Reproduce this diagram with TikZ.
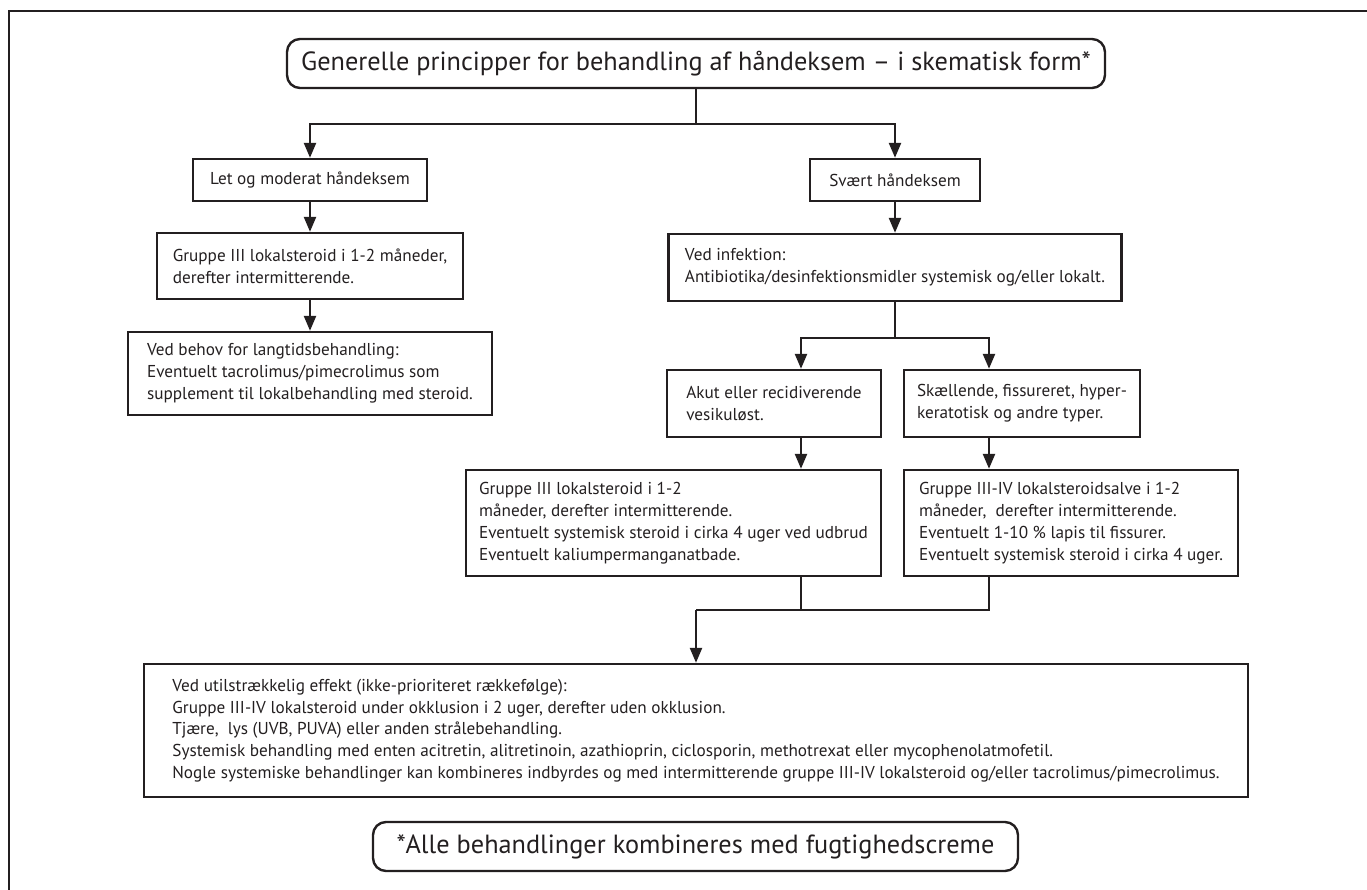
\documentclass[tikz,border=0pt]{standalone}
\usepackage{fontspec}
\setmainfont{PT Sans}
\usetikzlibrary{arrows.meta}
\definecolor{ink}{HTML}{231F20}

\begin{document}
\begin{tikzpicture}[x=1pt,y=-1pt,line width=2.4pt,color=ink,
    font=\fontsize{17.2}{21.8}\selectfont,
    box/.style={draw,rectangle,inner sep=0pt,align=left},
    pill/.style={draw,rectangle,rounded corners=13pt,inner sep=0pt,font=\fontsize{26.3}{32}\selectfont},
    arr/.style={-{Triangle[length=15pt,width=12pt]}}]
  \useasboundingbox (0,0) rectangle (1367,890);
  \draw[line width=2.6pt] (9,892) -- (9,11) -- (1369,11);
  \node[pill,minimum width=818pt,minimum height=49pt] (title) at (696,63.5) {Generelle principper for behandling af håndeksem – i skematisk form*};
  \node[box,minimum width=234pt,minimum height=42pt] (let) at (310,180) {Let og moderat håndeksem};
  \node[box,minimum width=170pt,minimum height=42pt] (svaert) at (895,180) {Svært håndeksem};
  \node[box,minimum width=306pt,minimum height=66pt] (grp) at (310,266) {Gruppe III lokalsteroid i 1-2 måneder,\\derefter intermitterende.};
  \node[box,minimum width=364pt,minimum height=83pt] (behov) at (310,373.5) {Ved behov for langtidsbehandling:\\Eventuelt tacrolimus/pimecrolimus som\\supplement til lokalbehandling med steroid.};
  \node[box,minimum width=453pt,minimum height=67pt] (infek) at (895,267.5) {Ved infektion:\\Antibiotika/desinfektionsmidler systemisk og/eller lokalt.};
  \node[box,minimum width=214pt,minimum height=67pt] (akut) at (774,403.5) {Akut eller recidiverende\\vesikuløst.};
  \node[box,minimum width=236pt,minimum height=67pt] (skael) at (1022,403.5) {Skællende, fissureret, hyper-\\keratotisk og andre typer.};
  \node[box,minimum width=415pt,minimum height=106pt] (vesik) at (673.5,523) {Gruppe III lokalsteroid i 1-2\\måneder, derefter intermitterende.\\Eventuelt systemisk steroid i cirka 4 uger ved udbrud\\Eventuelt kaliumpermanganatbade.};
  \node[box,minimum width=334pt,minimum height=106pt] (hyper) at (1071,523) {Gruppe III-IV lokalsteroidsalve i 1-2\\måneder,~ derefter intermitterende.\\Eventuelt 1-10 \% lapis til fissurer.\\Eventuelt systemisk steroid i cirka 4 uger.};
  \node[box,minimum width=1104pt,minimum height=133pt] (util) at (696,730.5) {Ved utilstrækkelig effekt (ikke-prioriteret rækkefølge):\\Gruppe III-IV lokalsteroid under okklusion i 2 uger, derefter uden okklusion.\\Tjære,~ lys (UVB, PUVA) eller anden strålebehandling.\\Systemisk behandling med enten acitretin, alitretinoin, azathioprin, ciclosporin, methotrexat eller mycophenolatmofetil.\\Nogle systemiske behandlinger kan kombineres indbyrdes og med intermitterende gruppe III-IV lokalsteroid og/eller tacrolimus/pimecrolimus.};
  \node[pill,minimum width=645pt,minimum height=49pt] (fugt) at (695.5,846.5) {*Alle behandlinger kombineres med fugtighedscreme};
  \coordinate (lc) at (801,0);
  \coordinate (rc) at (989,0);
  \coordinate (s3) at (696,610);
  \draw (title.south) -- ++(0,35) coordinate (s1);
  \draw[arr] (s1) -| (let.north);
  \draw[arr] (s1) -| (svaert.north);
  \draw[arr] (let) -- (grp);
  \draw[arr] (grp) -- (behov);
  \draw[arr] (svaert) -- (infek);
  \draw (infek.south) -- ++(0,36) coordinate (s2);
  \draw[arr] (s2) -| (akut.north -| lc);
  \draw[arr] (s2) -| (skael.north -| rc);
  \draw[arr] (akut.south -| lc) -- (vesik.north -| lc);
  \draw[arr] (skael.south -| rc) -- (hyper.north -| rc);
  \draw (vesik.south -| lc) |- (s3);
  \draw (hyper.south -| rc) |- (s3);
  \draw[arr] (s3) -- (util);
\end{tikzpicture}
\end{document}
